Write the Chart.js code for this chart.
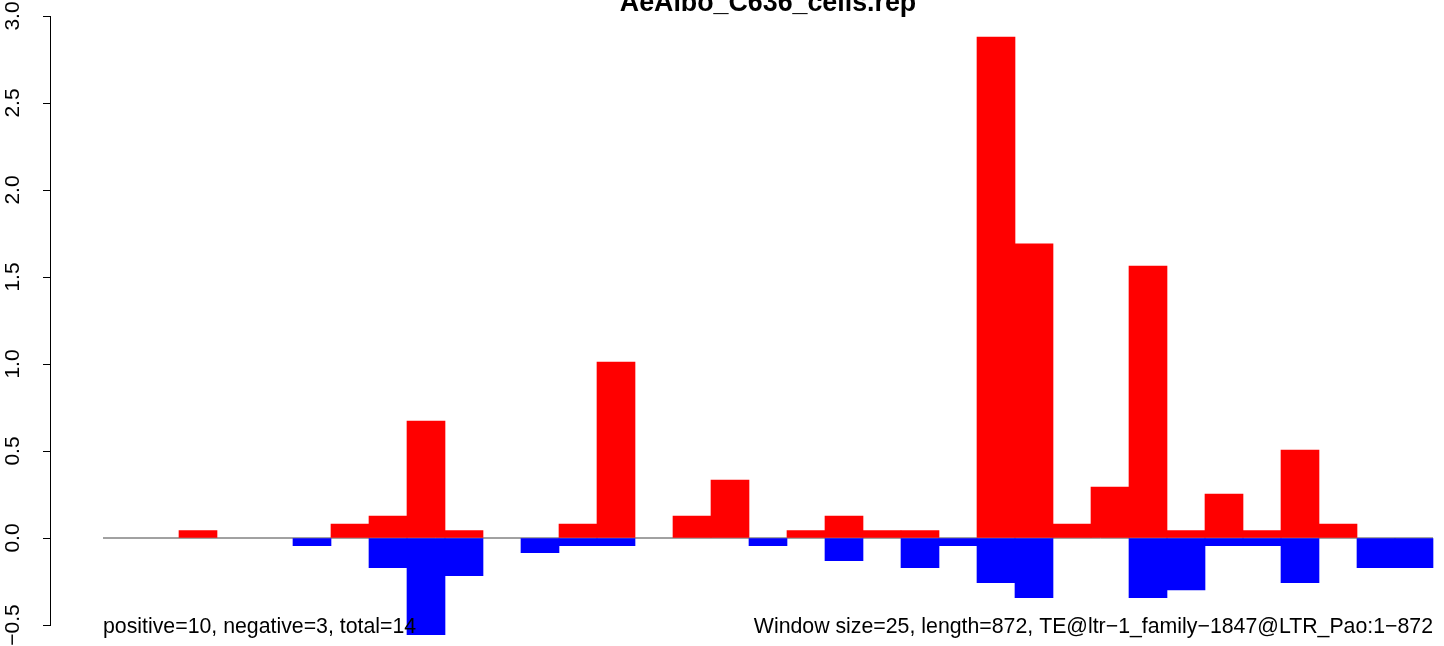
<!DOCTYPE html>
<html>
<head>
<meta charset="utf-8">
<script src="https://cdn.jsdelivr.net/npm/chart.js@4"></script>
<style>
  html, body { margin: 0; padding: 0; background: #fff; }
  #chart { display: block; }
</style>
</head>
<body>
<canvas id="chart" width="1444" height="646"></canvas>
<script>
const title = "AeAlbo_C636_cells.rep";
const leftNote = "positive=10, negative=3, total=14";
const rightNote = "Window size=25, length=872, TE@ltr\u22121_family\u22121847@LTR_Pao:1\u2212872";

// window start positions (size 25, length 872)
const windowStart = [1, 26, 51, 76, 101, 126, 151, 176, 201, 226, 251, 276, 301, 326, 351, 376, 401, 426,
  451, 476, 501, 526, 551, 576, 601, 626, 651, 676, 701, 726, 751, 776, 801, 826, 851];

const positive = [0, 0, 0.042, 0, 0, 0, 0.08, 0.126, 0.672, 0.042, 0, 0, 0.08, 1.011, 0, 0.126, 0.333, 0,
  0.042, 0.126, 0.042, 0.042, 0, 2.879, 1.69, 0.08, 0.293, 1.563, 0.042, 0.253, 0.042, 0.506, 0.08, 0, 0];

const negative = [0, 0, 0, 0, 0, -0.044, 0, -0.17, -0.556, -0.217, 0, -0.084, -0.044, -0.044, 0, 0, 0, -0.044,
  0, -0.13, 0, -0.17, -0.044, -0.257, -0.343, 0, 0, -0.343, -0.299, -0.044, -0.044, -0.257, 0, -0.17, -0.17];

const yTicks = [-0.5, 0, 0.5, 1, 1.5, 2, 2.5, 3];

const FONT = "'Liberation Sans', Arial, Helvetica, sans-serif";

// empty windows get no bar at all
const toPoints = arr => arr.map((v, i) => ({ x: i + 0.5, y: v === 0 ? null : v }));

const textPlugin = {
  id: "rtext",
  afterDraw(chart) {
    const ctx = chart.ctx;
    const xs = chart.scales.x;
    const x0 = xs.getPixelForValue(0);
    const x1 = xs.getPixelForValue(windowStart.length);
    ctx.save();
    ctx.fillStyle = "#000";
    ctx.textBaseline = "alphabetic";
    ctx.font = "bold 26.8px " + FONT;
    ctx.textAlign = "center";
    ctx.fillText(title, (x0 + x1) / 2, 11);
    ctx.font = "21.3px " + FONT;
    ctx.textAlign = "left";
    ctx.fillText(leftNote, x0, 633);
    ctx.textAlign = "right";
    ctx.fillText(rightNote, x1, 633);
    ctx.restore();
  }
};

new Chart(document.getElementById("chart"), {
  type: "bar",
  data: {
    datasets: [
      {
        label: "negative",
        data: toPoints(negative),
        backgroundColor: "#0000ff",
        borderWidth: 0,
        grouped: false,
        clip: false,
        barPercentage: 1,
        categoryPercentage: 1,
        order: 0
      },
      {
        label: "positive",
        data: toPoints(positive),
        backgroundColor: "#ff0000",
        borderWidth: 0,
        grouped: false,
        clip: false,
        barPercentage: 1,
        categoryPercentage: 1,
        order: 1
      },
      {
        type: "line",
        label: "zero",
        data: [{ x: 0, y: 0 }, { x: windowStart.length, y: 0 }],
        borderColor: "#444",
        borderWidth: 1,
        pointRadius: 0,
        order: 2
      }
    ]
  },
  options: {
    responsive: false,
    animation: false,
    devicePixelRatio: 1,
    layout: { padding: { top: 16, right: 11, bottom: 21, left: 0 } },
    plugins: { legend: { display: false }, tooltip: { enabled: false } },
    scales: {
      x: {
        type: "linear",
        display: false,
        offset: false,
        grid: { offset: false },
        min: -53 / 38,
        max: windowStart.length,
        ticks: { includeBounds: false }
      },
      y: {
        min: -0.5,
        max: 3,
        afterFit: s => {
          s.width = 50;
          s.paddingTop = 0;
          s.paddingBottom = 0;
        },
        afterBuildTicks: s => { s.ticks = yTicks.map(v => ({ value: v })); },
        border: { display: true, color: "#000", width: 1 },
        grid: { drawOnChartArea: false, drawTicks: true, tickLength: 7, tickColor: "#000", lineWidth: 1 },
        ticks: {
          minRotation: 90,
          maxRotation: 90,
          crossAlign: "center",
          padding: 9,
          color: "#000",
          font: { family: FONT, size: 21 },
          callback: v => v.toFixed(1).replace("-", "\u2212")
        }
      }
    }
  },
  plugins: [textPlugin]
});
</script>
</body>
</html>
